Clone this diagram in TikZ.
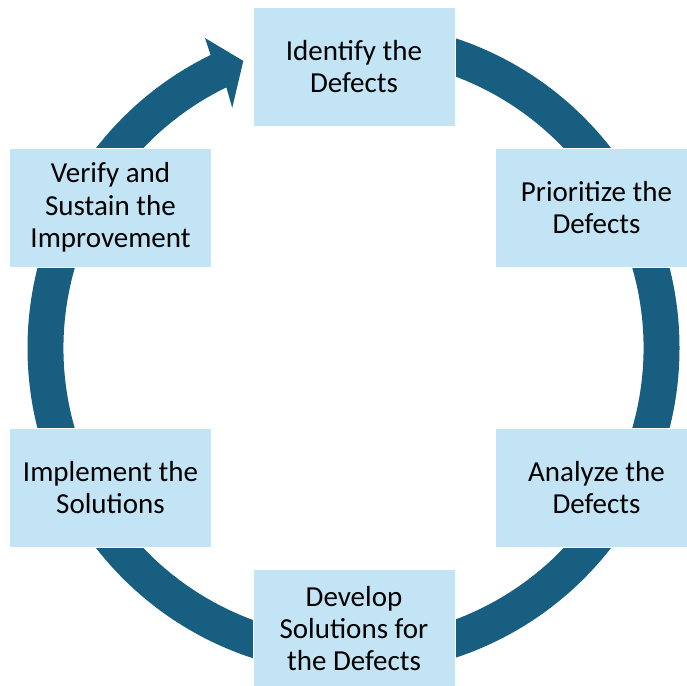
\documentclass[tikz,border=0pt]{standalone}
\usepackage{fontspec}
\setmainfont{Carlito}
\definecolor{ringblue}{RGB}{23,94,128}
\definecolor{boxblue}{RGB}{194,228,244}
\tikzset{
  stepbox/.style={rectangle, fill=boxblue, draw=white, line width=0.8pt,
    minimum width=202pt, minimum height=119pt, inner sep=0pt,
    align=center, font=\fontsize{29}{32.4}\selectfont, text=black},
  ring/.style={fill=ringblue}
}
\begin{document}
\begin{tikzpicture}[x=1pt,y=1pt]
\useasboundingbox (0,0) rectangle (687,685);
\clip (0,0) rectangle (687,685);
\coordinate (c) at (353.5,337);
\begin{scope}[shift={(c)}]
\fill[ring] (90:326) arc[start angle=90, end angle=-244, radius=326]
  -- (-244.4:343.7) -- (-249:307.5) -- (-243.2:269) -- (-244:290)
  arc[start angle=116, end angle=450, radius=290] -- cycle;
\end{scope}
\node[stepbox] (identify) at (354,618.5) {Identify the\\Defects};
\node[stepbox] (prioritize) at (596.5,477.5) {Prioritize the\\Defects};
\node[stepbox] (analyze) at (596.5,197.5) {Analyze the\\Defects};
\node[stepbox] (develop) at (354,56.5) {Develop\\Solutions for\\the Defects};
\node[stepbox] (implement) at (110.5,197.5) {Implement the\\Solutions};
\node[stepbox] (verify) at (110.5,477.5) {Verify and\\Sustain the\\Improvement};
\end{tikzpicture}
\end{document}
